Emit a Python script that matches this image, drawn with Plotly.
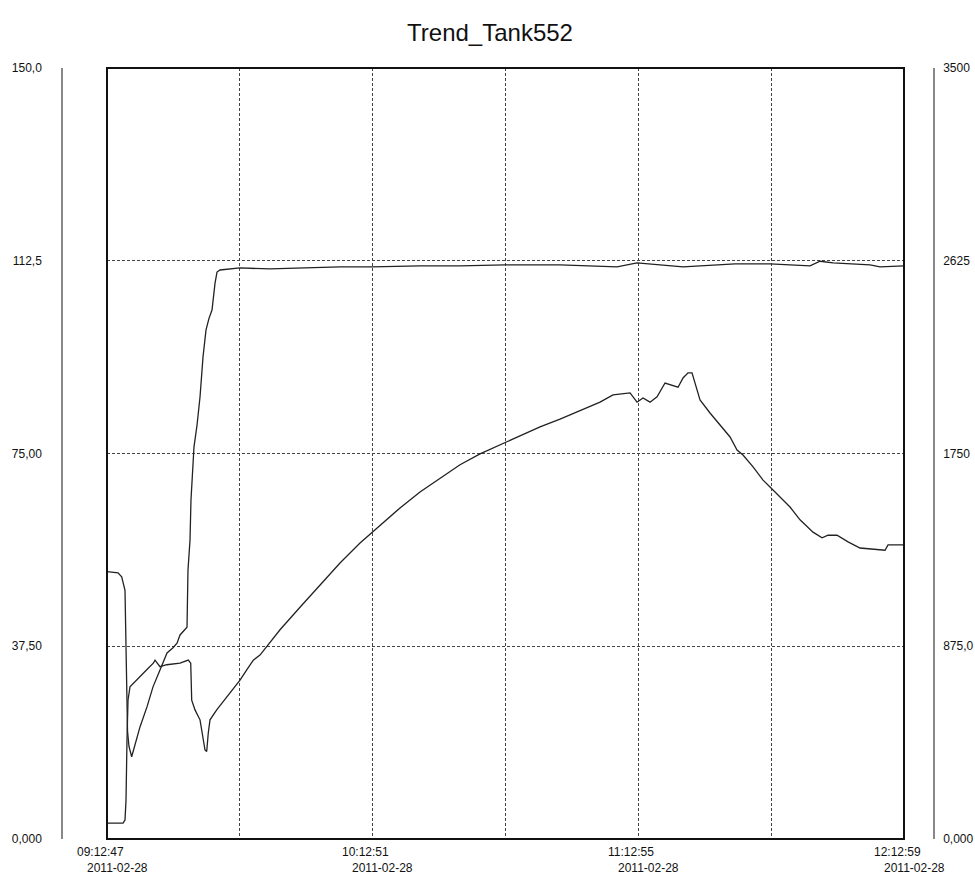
import pandas as pd
import plotly.graph_objects as go

# ---------------- data ----------------
start_time = "2011-02-28 09:12:47"
end_time = "2011-02-28 12:12:59"

# series 1 (left axis, 0..150): elapsed minutes since start, value
s1_min = [0.00, 2.49, 3.32, 3.69, 4.07, 4.64, 4.97, 5.58, 5.88, 7.46, 9.04, 10.40,
          11.98, 13.57, 14.92, 15.83, 16.51, 17.18, 18.09, 18.31, 18.77, 18.99,
          19.67, 20.35, 21.03, 21.71, 22.38, 23.06, 23.74, 24.42, 24.87, 25.55,
          30.07, 36.86, 43.64, 52.68, 59.92, 70.77, 79.82, 89.99, 102.43, 111.47,
          115.32, 119.84, 126.17, 130.24, 142.00, 149.91, 158.96, 161.22, 164.16,
          172.52, 174.78, 180.20]
s1_val = [52.0, 51.8, 51.0, 49.7, 48.4, 21.0, 18.0, 16.0, 17.0, 21.8, 25.7, 29.6,
          32.9, 36.2, 37.2, 38.1, 39.7, 40.3, 41.2, 52.3, 58.2, 66.0,
          76.3, 80.5, 86.0, 93.8, 99.0, 101.3, 102.9, 108.1, 110.3, 110.7,
          111.1, 110.9, 111.1, 111.3, 111.3, 111.5, 111.5, 111.7, 111.7, 111.5,
          111.3, 112.1, 111.7, 111.3, 111.9, 111.9, 111.5, 112.4, 112.1,
          111.7, 111.3, 111.5]

# series 2 (right axis, 0..3500): elapsed minutes since start, value
s2_min = [0.00, 3.62, 4.07, 4.30, 4.52, 4.75, 5.20, 5.95, 7.46, 8.98, 10.47, 10.85,
          11.98, 13.50, 16.51, 18.38, 18.93, 19.15, 19.90, 21.03, 22.16, 22.54,
          22.90, 23.29, 24.80, 27.07, 28.56, 30.07, 31.59, 33.08, 34.59, 39.12,
          43.64, 48.16, 52.68, 57.21, 59.92, 66.25, 70.77, 75.29, 79.82, 84.34,
          88.86, 93.38, 97.91, 102.43, 106.95, 111.47, 114.41, 118.26, 119.84,
          121.19, 122.78, 124.36, 126.17, 127.75, 129.11, 130.24, 131.37, 132.27,
          132.95, 134.08, 136.34, 138.60, 140.87, 142.45, 143.80, 146.07, 148.33,
          149.91, 152.17, 154.43, 156.69, 159.63, 161.67, 163.02, 165.06, 167.55,
          170.26, 175.91, 176.59, 180.20]
s2_val = [72, 72, 86, 177, 450, 630, 691, 707, 737, 768, 798, 812,
          782, 791, 798, 812, 798, 630, 586, 541, 404, 397,
          481, 541, 586, 646, 684, 721, 768, 812, 835, 950,
          1052, 1153, 1253, 1344, 1393, 1503, 1575, 1638, 1699, 1748,
          1790, 1829, 1871, 1906, 1944, 1983, 2016, 2025, 1983,
          2002, 1983, 2007, 2070, 2060, 2051, 2093, 2116, 2116,
          2070, 1993, 1934, 1878, 1825, 1766, 1743, 1689, 1629,
          1598, 1552, 1507, 1449, 1393, 1367, 1379, 1379, 1349,
          1321, 1311, 1335, 1335]

left_ticks = [0, 37.5, 75, 112.5, 150]
left_labels = ["0,000", "37,50", "75,00", "112,5", "150,0"]
right_ticks = [0, 875, 1750, 2625, 3500]
right_labels = ["0,000", "875,0", "1750", "2625", "3500"]
x_tick_times = ["09:12:47", "10:12:51", "11:12:55", "12:12:59"]
x_tick_date = "2011-02-28"

# ---------------- build ----------------
t0 = pd.Timestamp(start_time)
t1 = pd.Timestamp(end_time)
x1 = t0 + pd.to_timedelta(s1_min, unit="m")
x2 = t0 + pd.to_timedelta(s2_min, unit="m")
grid_x = pd.date_range(t0, t1, periods=7)

W, H = 975, 876
FONT = "Liberation Sans, Arial, sans-serif"

PL, PR, PT, PB = 107, 904, 68, 839

fig = go.Figure()
fig.add_trace(go.Scatter(x=x1, y=s1_val, mode="lines", yaxis="y",
                         line=dict(color="#222222", width=1.3), showlegend=False))
fig.add_trace(go.Scatter(x=x2, y=s2_val, mode="lines", yaxis="y2",
                         line=dict(color="#222222", width=1.3), showlegend=False))

annotations = []
for t in x_tick_times:
    ts = pd.Timestamp("2011-02-28 " + t)
    annotations.append(dict(x=ts, y=0, xref="x", yref="paper", text=t,
                            showarrow=False, yanchor="top", xanchor="center",
                            xshift=-7, yshift=-4,
                            font=dict(family=FONT, size=12, color="#111")))
    annotations.append(dict(x=ts, y=0, xref="x", yref="paper", text=x_tick_date,
                            showarrow=False, yanchor="top", xanchor="center",
                            xshift=10, yshift=-20,
                            font=dict(family=FONT, size=12, color="#111")))

fig.update_layout(
    width=W, height=H,
    margin=dict(l=0, r=0, t=PT, b=H - PB, autoexpand=False),
    paper_bgcolor="white", plot_bgcolor="white",
    title=dict(text="Trend_Tank552", x=490 / W, xanchor="center", xref="paper",
               y=1 - 33 / H, yref="container", yanchor="middle",
               font=dict(family=FONT, size=24, color="#111")),
    xaxis=dict(type="date", domain=[PL / W, PR / W], range=[t0, t1],
               tickvals=list(grid_x), showticklabels=False,
               showgrid=True, gridcolor="#444", gridwidth=1, griddash="3px,2px",
               zeroline=False, showline=False, ticks="", automargin=False),
    yaxis=dict(range=[0, 150], tickvals=left_ticks, ticktext=left_labels,
               anchor="free", position=62 / W, side="left",
               showgrid=True, gridcolor="#444", gridwidth=1, griddash="3px,2px",
               zeroline=False, showline=True, linecolor="#888", linewidth=1.5,
               ticks="outside", ticklen=17, tickcolor="rgba(0,0,0,0)",
               tickfont=dict(family=FONT, size=12, color="#111"), automargin=False),
    yaxis2=dict(range=[0, 3500], tickvals=right_ticks, ticktext=right_labels,
                overlaying="y", anchor="free", position=934 / W, side="right",
                showgrid=False, zeroline=False, showline=True, linecolor="#888",
                linewidth=1.5, ticks="outside", ticklen=6, tickcolor="rgba(0,0,0,0)",
                tickfont=dict(family=FONT, size=12, color="#111"), automargin=False),
    annotations=annotations,
    shapes=[dict(type="rect", xref="x domain", yref="y domain", x0=0, x1=1, y0=0, y1=1,
                 line=dict(color="#111", width=2), layer="above")],
)

# remove the default 8px page margin so the 975x876 figure fills the window exactly
fig.write_html("out.html",
               config={"displayModeBar": False},
               post_script="document.body.style.margin='0';document.body.style.overflow='hidden';")
